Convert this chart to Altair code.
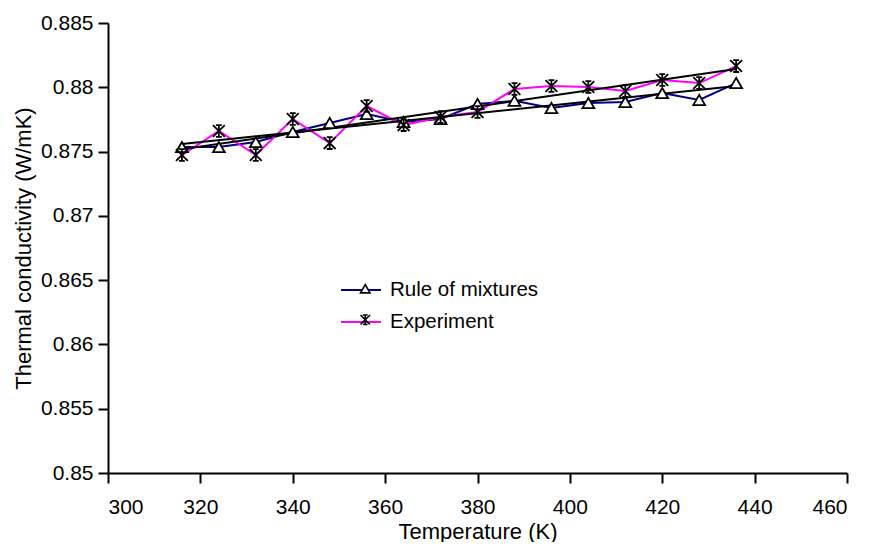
import altair as alt
import pandas as pd

temps = [316, 324, 332, 340, 348, 356, 364, 372, 380, 388, 396, 404, 412, 420, 428, 436]
rule_of_mixtures = [0.87535, 0.87535, 0.87574, 0.87652, 0.87722, 0.87792, 0.8773, 0.87753,
                    0.8787, 0.87895, 0.87839, 0.87878, 0.87886, 0.87955, 0.87901, 0.88033]
experiment = [0.87473, 0.8766, 0.87473, 0.87753, 0.87566, 0.87854, 0.87706, 0.87769,
              0.87808, 0.87987, 0.8801, 0.88002, 0.87971, 0.88057, 0.88033, 0.88165]
series_names = ["Rule of mixtures", "Experiment"]
series_colors = ["#000080", "#FF00FF"]
marker_shapes = ["triangle-up", "M-1,-1L1,1M1,-1L-1,1M0,-1L0,1M-0.5,-1L0.5,-1M-0.5,1L0.5,1"]
marker_strokes = ["black", "black"]
x_ticks = [300, 320, 340, 360, 380, 400, 420, 440, 460]
y_ticks = [0.85, 0.855, 0.86, 0.865, 0.87, 0.875, 0.88, 0.885]

rows = []
for name, vals in zip(series_names, [rule_of_mixtures, experiment]):
    for t, v in zip(temps, vals):
        rows.append({"T": t, "k": v, "series": name, "marker": name})
df = pd.DataFrame(rows)

FONT = "Liberation Sans"

x_enc = alt.X("T:Q", scale=alt.Scale(domain=[300, 460], nice=False),
              axis=alt.Axis(values=x_ticks, title="Temperature (K)", format="d"))
y_enc = alt.Y("k:Q", scale=alt.Scale(domain=[0.85, 0.885], zero=False, nice=False),
              axis=alt.Axis(values=y_ticks, title="Thermal conductivity (W/mK)", format=".3~f"))

base = alt.Chart(df)

lines = base.mark_line(strokeWidth=2).encode(
    x=x_enc, y=y_enc,
    color=alt.Color("series:N", sort=series_names,
                    scale=alt.Scale(range=series_colors),
                    legend=alt.Legend(orient="none", legendX=232, legendY=246, title=None,
                                      symbolType="stroke", symbolSize=1600, symbolStrokeWidth=2,
                                      labelFontSize=20.5, labelFont=FONT, labelColor="black",
                                      labelOffset=8, rowPadding=-9, padding=0)),
)

trend = base.transform_regression("T", "k", groupby=["series"], method="linear",
                                  extent=[316, 436]).mark_line(color="black", strokeWidth=2).encode(
    x="T:Q", y="k:Q", detail="series:N")

marker_legend = alt.Legend(orient="none", legendX=247, legendY=255.5, title=None,
                           symbolSize=90, symbolFillColor="white", symbolStrokeWidth=1.6,
                           labelFontSize=20.5, labelFont=FONT, labelColor="transparent",
                           labelOffset=8, rowPadding=10, padding=0)

points = base.mark_point(filled=True, fill="white", strokeWidth=1.8, size=140, opacity=1).encode(
    x="T:Q", y="k:Q",
    shape=alt.Shape("marker:N",
                    scale=alt.Scale(domain=series_names, range=marker_shapes),
                    legend=marker_legend),
    stroke=alt.Stroke("marker:N",
                      scale=alt.Scale(domain=series_names, range=marker_strokes),
                      legend=marker_legend),
)

chart = alt.layer(lines, trend, points).properties(
    width=739, height=450,
    autosize=alt.AutoSizeParams(type="none"),
    padding={"left": 100, "top": 15, "right": 17, "bottom": 69},
).configure_view(stroke=None).configure_axis(
    grid=False, domainColor="black", domainWidth=2, tickColor="black", tickWidth=2, tickSize=10,
    labelFont=FONT, labelFontSize=21, labelColor="black",
    titleFont=FONT, titleFontSize=22, titleFontWeight="normal", titleColor="black",
).configure_axisX(labelPadding=13, titlePadding=4).configure_axisY(labelPadding=5, titlePadding=5)

chart.save("out.html", embed_options={"renderer": "svg", "actions": False})
